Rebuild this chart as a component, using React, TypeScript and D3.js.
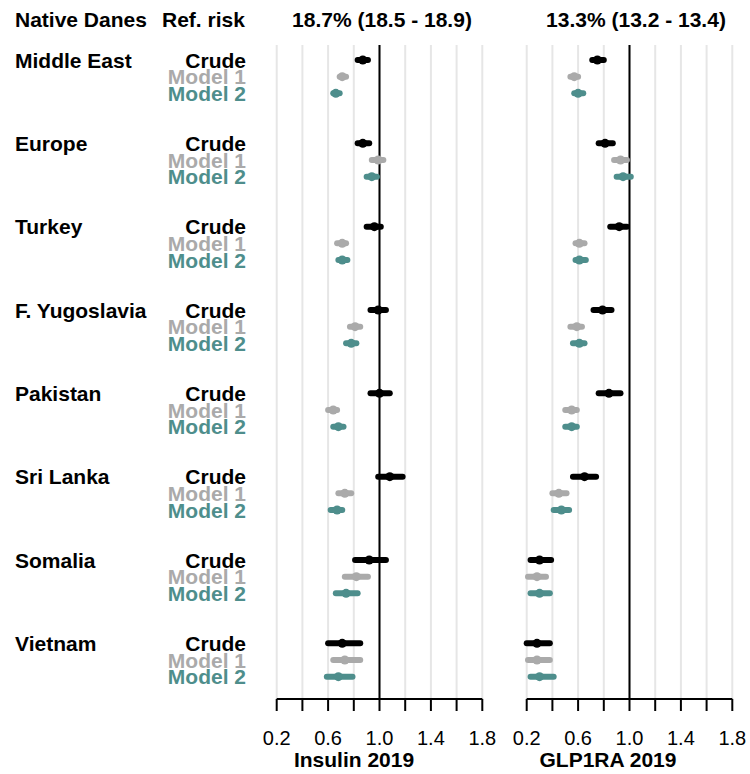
import React from "react";
import * as d3 from "d3";

const countries = ["Middle East", "Europe", "Turkey", "F. Yugoslavia", "Pakistan", "Sri Lanka", "Somalia", "Vietnam"];
const models = ["Crude", "Model 1", "Model 2"];
const modelColors = ["#000000", "#aaaaaa", "#4e8e8c"];
const panelTitles = ["Insulin 2019", "GLP1RA 2019"];
const refRisks = ["18.7% (18.5 - 18.9)", "13.3% (13.2 - 13.4)"];
const tickValues = [0.2, 0.4, 0.6, 0.8, 1.0, 1.2, 1.4, 1.6, 1.8];
const tickLabels = ["0.2", "", "0.6", "", "1.0", "", "1.4", "", "1.8"];

// [estimate, lower, upper] per country per model
const insulin: number[][][] = [
  [[0.87, 0.83, 0.91], [0.71, 0.69, 0.74], [0.66, 0.64, 0.69]],
  [[0.87, 0.83, 0.92], [0.99, 0.94, 1.03], [0.94, 0.90, 0.98]],
  [[0.96, 0.90, 1.01], [0.71, 0.67, 0.74], [0.71, 0.68, 0.75]],
  [[0.99, 0.93, 1.05], [0.81, 0.77, 0.85], [0.78, 0.74, 0.82]],
  [[1.00, 0.93, 1.08], [0.64, 0.60, 0.67], [0.68, 0.64, 0.72]],
  [[1.08, 0.99, 1.18], [0.73, 0.68, 0.78], [0.67, 0.62, 0.71]],
  [[0.92, 0.81, 1.05], [0.82, 0.73, 0.91], [0.74, 0.66, 0.83]],
  [[0.71, 0.60, 0.85], [0.73, 0.64, 0.85], [0.68, 0.59, 0.79]],
];
const glp1ra: number[][][] = [
  [[0.75, 0.71, 0.80], [0.57, 0.54, 0.60], [0.60, 0.57, 0.64]],
  [[0.81, 0.76, 0.87], [0.93, 0.88, 0.98], [0.95, 0.90, 1.01]],
  [[0.92, 0.85, 0.98], [0.61, 0.58, 0.65], [0.61, 0.58, 0.66]],
  [[0.79, 0.72, 0.86], [0.59, 0.54, 0.63], [0.61, 0.56, 0.65]],
  [[0.84, 0.76, 0.93], [0.55, 0.50, 0.59], [0.55, 0.50, 0.59]],
  [[0.65, 0.56, 0.74], [0.45, 0.40, 0.51], [0.47, 0.41, 0.53]],
  [[0.30, 0.23, 0.39], [0.28, 0.21, 0.35], [0.30, 0.23, 0.38]],
  [[0.28, 0.20, 0.38], [0.28, 0.21, 0.38], [0.30, 0.23, 0.41]],
];
const panels = [insulin, glp1ra];

const W = 750, H = 774;
const FONT = "'Liberation Sans', Arial, Helvetica, sans-serif";
const panelRanges: [number, number][] = [[276.7, 482.3], [526.7, 732.3]];
const titleCenters = [354, 608];
const headerCenters = [382, 636];
const plotTop = 45;
const axisY = 699;

const y = d3.scaleLinear().domain([0, 40]).range([60, 60 + 40 * 16.667]);

export default function App() {
  return (
    <svg width={W} height={H} style={{ position: "absolute", left: 0, top: 0, background: "#fff" }} fontFamily={FONT}>
      <rect x={0} y={0} width={W} height={H} fill="#fff" />
      {/* headers */}
      <text x={15} y={27} fontSize={21} fontWeight="bold">Native Danes</text>
      <text x={162} y={27} fontSize={21} fontWeight="bold">Ref. risk</text>
      {refRisks.map((r, i) => (
        <text key={r} x={headerCenters[i]} y={27} fontSize={21} fontWeight="bold" textAnchor="middle">{r}</text>
      ))}
      {/* row labels */}
      {countries.map((c, g) => (
        <g key={c}>
          <text x={15} y={y(g * 5) + 7.5} fontSize={21} fontWeight="bold">{c}</text>
          {models.map((m, k) => (
            <text key={m} x={246} y={y(g * 5 + k) + 7.5} fontSize={21} fontWeight="bold" textAnchor="end" fill={modelColors[k]}>{m}</text>
          ))}
        </g>
      ))}
      {panels.map((data, p) => {
        const x = d3.scaleLinear().domain([0.2, 1.8]).range(panelRanges[p]);
        return (
          <g key={p}>
            {tickValues.map((t) => (
              <line key={"g" + t} x1={x(t)} x2={x(t)} y1={plotTop} y2={axisY} stroke="#e6e6e6" strokeWidth={2} />
            ))}
            <line x1={x(1)} x2={x(1)} y1={plotTop} y2={axisY} stroke="#000" strokeWidth={2} />
            {data.map((rows, g) =>
              rows.map((v, k) => {
                const yy = y(g * 5 + k);
                return (
                  <g key={g + "-" + k}>
                    <line x1={x(v[1])} x2={x(v[2])} y1={yy} y2={yy} stroke={modelColors[k]} strokeWidth={6} strokeLinecap="round" />
                    <circle cx={x(v[0])} cy={yy} r={4.5} fill={modelColors[k]} />
                  </g>
                );
              })
            )}
            {/* axis */}
            <line x1={x(0.2)} x2={x(1.8)} y1={axisY} y2={axisY} stroke="#000" strokeWidth={2} />
            {tickValues.map((t, i) => (
              <g key={"t" + t}>
                <line x1={x(t)} x2={x(t)} y1={axisY} y2={axisY + 12} stroke="#000" strokeWidth={2} />
                {tickLabels[i] && (
                  <text x={x(t)} y={745} fontSize={20} textAnchor="middle">{tickLabels[i]}</text>
                )}
              </g>
            ))}
            <text x={titleCenters[p]} y={767} fontSize={21} fontWeight="bold" textAnchor="middle">{panelTitles[p]}</text>
          </g>
        );
      })}
    </svg>
  );
}
